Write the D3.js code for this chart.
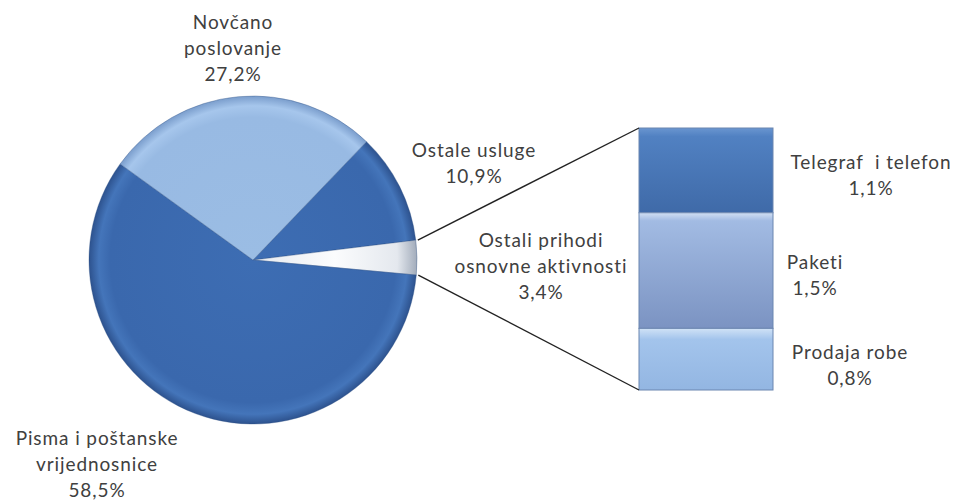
<!DOCTYPE html>
<html>
<head>
<meta charset="utf-8">
<script src="https://cdn.jsdelivr.net/npm/d3@7"></script>
<style>
  body { margin: 0; background: #fff; }
  text { font-family: Lato, "Open Sans", sans-serif; font-size: 19px; letter-spacing: 0.9px; fill: #404040; white-space: pre; }
</style>
</head>
<body>
<div id="chart"></div>
<script>
const W = 959, H = 501;

// pie, clockwise starting at "Ostale usluge"
const pieLabels = [["Ostale usluge"], ["Ostali prihodi", "osnovne aktivnosti"], ["Pisma i poštanske", "vrijednosnice"], ["Novčano", "poslovanje"]];
const pieValues = [10.9, 3.4, 58.5, 27.2];

// the bar that splits "Ostali prihodi osnovne aktivnosti"
const barLabels = [["Telegraf  i telefon"], ["Paketi"], ["Prodaja robe"]];
const barValues = [1.1, 1.5, 0.8];

const fmt = d3.formatLocale({decimal: ",", thousands: ".", grouping: [3], currency: ["", ""]}).format(".1f");

const svg = d3.select("#chart").append("svg").attr("width", W).attr("height", H);
const defs = svg.append("defs");

const cx = 253, cy = 260, R = 164;

function radial(id, stops) {
    let g = defs.append("radialGradient").attr("id", id)
        .attr("gradientUnits", "userSpaceOnUse").attr("cx", 0).attr("cy", 0).attr("r", R);
    stops.forEach(s => g.append("stop").attr("offset", s[0]).attr("stop-color", s[1]));
}
function linear(id, stops) {
    let g = defs.append("linearGradient").attr("id", id).attr("x1", 0).attr("y1", 0).attr("x2", 0).attr("y2", 1);
    stops.forEach(s => g.append("stop").attr("offset", s[0]).attr("stop-color", s[1]));
}

radial("pDark", [[0, "#3d6db3"], [0.87, "#3a68ad"], [0.94, "#4475ba"], [1, "#2d528e"]]);
radial("pLight", [[0, "#9bbde4"], [0.87, "#98bae3"], [0.94, "#a6c6ec"], [1, "#7a9dcc"]]);
radial("pGray", [[0, "#e6eaf0"], [0.5, "#fbfcfd"], [0.88, "#e4e8ee"], [1, "#a2acbb"]]);
const pieFills = ["url(#pDark)", "url(#pGray)", "url(#pDark)", "url(#pLight)"];

const pie = d3.pie().sort(null).value(d => d)
    .startAngle(43.8 * Math.PI / 180).endAngle(43.8 * Math.PI / 180 + 2 * Math.PI);
const arcs = pie(pieValues);
const arc = d3.arc().innerRadius(0).outerRadius(R);

const gPie = svg.append("g").attr("transform", `translate(${cx},${cy})`);
gPie.selectAll("path").data(arcs).enter().append("path")
    .attr("d", arc)
    .attr("fill", (d, i) => pieFills[i])
    .attr("stroke", "#2c4c80").attr("stroke-opacity", 0.35).attr("stroke-width", 1);

// bar
const barX = 639, barW = 134;
const y = d3.scaleLinear().domain([0, d3.sum(barValues)]).range([128, 390]);
let acc = 0;
const barData = barValues.map((v, i) => { let d = {i: i, v: v, y0: acc, y1: acc + v}; acc += v; return d; });
linear("b0", [[0, "#6a96d0"], [0.1, "#5181c2"], [1, "#3f6aa8"]]);
linear("b1", [[0, "#d2e0f3"], [0.07, "#a2bbe3"], [1, "#7b93c2"]]);
linear("b2", [[0, "#d0e2f6"], [0.18, "#a3c4ec"], [1, "#93b6e2"]]);

svg.append("g").selectAll("rect").data(barData).enter().append("rect")
    .attr("x", barX).attr("width", barW)
    .attr("y", d => y(d.y0)).attr("height", d => y(d.y1) - y(d.y0))
    .attr("fill", d => `url(#b${d.i})`)
    .attr("stroke", "#6b86b0").attr("stroke-width", 1);

// connector lines from the small slice to the bar
const small = arcs[1];
const rimPt = a => [cx + R * Math.sin(a), cy - R * Math.cos(a)];
const p0 = rimPt(small.startAngle), p1 = rimPt(small.endAngle);
svg.append("line").attr("x1", p0[0] + 2).attr("y1", p0[1]).attr("x2", barX).attr("y2", y(0))
    .attr("stroke", "#222").attr("stroke-width", 1.4);
svg.append("line").attr("x1", p1[0] + 2).attr("y1", p1[1]).attr("x2", barX).attr("y2", y(d3.sum(barValues)))
    .attr("stroke", "#222").attr("stroke-width", 1.4);

// labels
const lh = 26;
function label(x, y0, lines) {
    let t = svg.append("text").attr("text-anchor", "middle");
    lines.forEach((l, k) => t.append("tspan").attr("x", x).attr("y", y0 + k * lh).attr("dy", "0.35em").text(l));
}
const piePos = [[474, 150], [541, 240], [97, 438], [233, 22]];
pieLabels.forEach((l, i) => label(piePos[i][0], piePos[i][1], l.concat([fmt(pieValues[i]) + "%"])));
const barPos = [[871, 162], [815, 262], [850, 352]];
barLabels.forEach((l, i) => label(barPos[i][0], barPos[i][1], l.concat([fmt(barValues[i]) + "%"])));
</script>
</body>
</html>
